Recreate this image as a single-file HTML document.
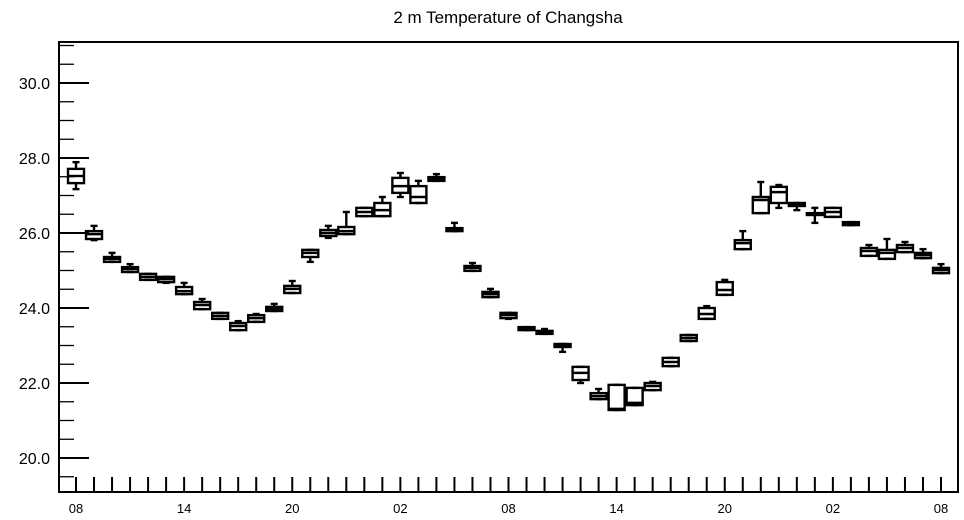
<!DOCTYPE html>
<html><head><meta charset="utf-8"><style>
html,body{margin:0;padding:0;background:#fff;}
svg{display:block;font-family:"Liberation Sans",Arial,sans-serif;}
</style></head><body>
<svg id="chart" width="964" height="520" viewBox="0 0 964 520">
<text x="508" y="23" text-anchor="middle" font-size="17">2 m Temperature of Changsha</text>
<g id="marks"></g>
<g id="axes"></g>
</svg>
<script>
const xLabels = ["08","14","20","02","08","14","20","02","08"];
const yTicks = [20,22,24,26,28,30];
const maxV = [27.89,26.19,25.47,25.17,24.91,24.83,24.67,24.24,23.87,23.65,23.84,24.11,24.72,25.55,26.19,26.56,26.67,26.96,27.60,27.39,27.57,26.27,25.20,24.51,23.87,23.49,23.44,23.04,22.43,21.84,21.95,21.87,22.03,22.67,23.28,24.05,24.75,26.05,27.36,27.28,26.80,26.67,26.67,26.29,25.68,25.84,25.76,25.57,25.17];
const q3V = [27.71,26.05,25.36,25.09,24.91,24.83,24.56,24.16,23.87,23.60,23.81,24.03,24.59,25.55,26.08,26.16,26.67,26.80,27.47,27.25,27.49,26.13,25.12,24.43,23.87,23.49,23.39,23.04,22.43,21.73,21.95,21.87,22.00,22.67,23.28,24.00,24.69,25.81,26.96,27.23,26.80,26.53,26.67,26.29,25.60,25.55,25.68,25.47,25.07];
const medV = [27.52,25.97,25.31,25.04,24.83,24.77,24.45,24.08,23.79,23.52,23.73,23.97,24.51,25.47,26.00,26.05,26.56,26.61,27.25,26.96,27.44,26.11,25.07,24.37,23.81,23.47,23.36,23.01,22.27,21.65,21.31,21.47,21.92,22.56,23.20,23.84,24.48,25.73,26.88,27.09,26.77,26.51,26.56,26.27,25.52,25.47,25.60,25.41,25.01];
const q1V = [27.33,25.84,25.23,24.96,24.75,24.69,24.37,23.97,23.71,23.41,23.63,23.92,24.40,25.36,25.92,25.97,26.45,26.45,27.07,26.80,27.39,26.05,24.99,24.29,23.73,23.41,23.31,22.96,22.08,21.57,21.28,21.41,21.81,22.45,23.12,23.71,24.35,25.57,26.53,26.80,26.72,26.48,26.43,26.21,25.39,25.31,25.49,25.33,24.93];
const minV = [27.17,25.81,25.23,24.96,24.75,24.67,24.37,23.97,23.71,23.41,23.63,23.92,24.40,25.23,25.87,25.97,26.45,26.45,26.96,26.80,27.39,26.05,24.99,24.29,23.71,23.41,23.31,22.83,22.00,21.57,21.28,21.41,21.81,22.45,23.12,23.71,24.35,25.57,26.53,26.67,26.61,26.27,26.43,26.21,25.39,25.31,25.49,25.33,24.93];

const NS="http://www.w3.org/2000/svg";
const L=59,R=958,T=42,B=492;
const yMin=20-34/37.5, yMax=30+41/37.5;
function ys(v){return B-(v-yMin)/(yMax-yMin)*(B-T);}
function xs(i){return 76+i*(R-L-17-17)/(maxV.length-1)*((940-76)/(R-L-34))*((R-L-34)/(940-76));}
function mk(tag,attrs,parent){const e=document.createElementNS(NS,tag);for(const k in attrs)e.setAttribute(k,attrs[k]);parent.appendChild(e);return e;}
const marks=document.getElementById('marks');
const axes=document.getElementById('axes');
const sw=2.4, hw=8, cw=3.5;
for(let i=0;i<maxV.length;i++){
  const x=xs(i);
  const g=mk('g',{},marks);
  
  
  const st={stroke:'#000','stroke-width':sw,fill:'none'};
  mk('line',Object.assign({x1:x,x2:x,y1:ys(maxV[i]),y2:ys(q3V[i])},st),g);
  mk('line',Object.assign({x1:x,x2:x,y1:ys(q1V[i]),y2:ys(minV[i])},st),g);
  mk('line',Object.assign({x1:x-cw,x2:x+cw,y1:ys(maxV[i]),y2:ys(maxV[i])},st),g);
  mk('line',Object.assign({x1:x-cw,x2:x+cw,y1:ys(minV[i]),y2:ys(minV[i])},st),g);
  mk('rect',Object.assign({x:x-hw,y:ys(q3V[i]),width:2*hw,height:Math.max(0.5,ys(q1V[i])-ys(q3V[i]))},st),g);
  mk('line',Object.assign({x1:x-hw,x2:x+hw,y1:ys(medV[i]),y2:ys(medV[i])},st),g);
}
// frame
const fr=mk('rect',{x:L,y:T,width:R-L,height:B-T,fill:'none',stroke:'#000','stroke-width':2},axes);


// y ticks
for(let v=Math.ceil(yMin*2)/2; v<=yMax; v+=0.5){
  const y=ys(v); const major=Math.abs(v/2-Math.round(v/2))<1e-6;
  mk('line',{x1:L,x2:L+(major?30:15),y1:y,y2:y,stroke:'#000','stroke-width':major?2:1.3},axes);
}
yTicks.forEach(v=>{
  const t=mk('text',{x:50,y:ys(v)+6,'text-anchor':'end','font-size':16},axes);
  t.textContent=v.toFixed(1);
  
  
});
// x ticks
for(let i=0;i<maxV.length;i++){
  const x=xs(i);
  mk('line',{x1:x,x2:x,y1:B,y2:B-15,stroke:'#000','stroke-width':2},axes);
}
xLabels.forEach((s,k)=>{
  const t=mk('text',{x:xs(k*6),y:513,'text-anchor':'middle','font-size':13},axes);
  t.textContent=s;
  
  
});
</script>
</body></html>
